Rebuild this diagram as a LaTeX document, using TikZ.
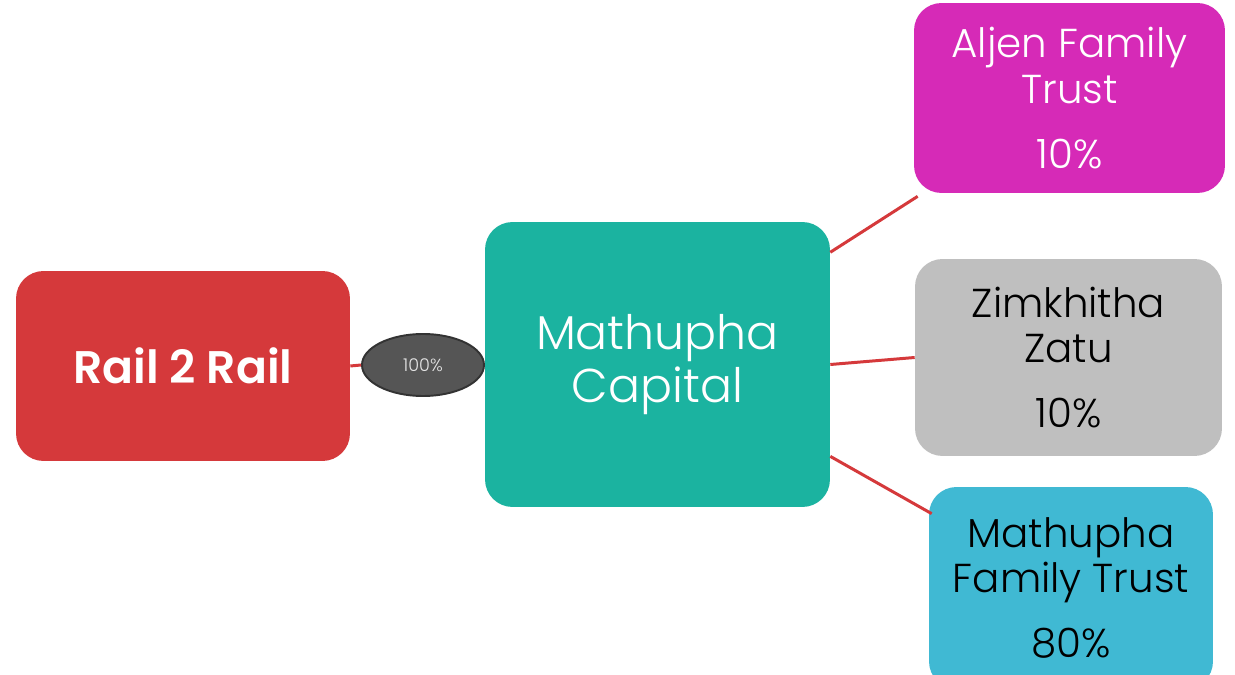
\documentclass[tikz,border=0pt]{standalone}
\usepackage{fontspec}
\setmainfont{Poppins}
\newfontfamily\lightfont{Poppins Light}
\newfontfamily\semifont{Poppins SemiBold}
\usetikzlibrary{shapes.geometric}
\definecolor{railred}{RGB}{213,57,59}
\definecolor{capteal}{RGB}{27,179,160}
\definecolor{aljenpink}{RGB}{214,42,183}
\definecolor{zatugray}{RGB}{191,191,191}
\definecolor{trustblue}{RGB}{64,185,211}
\definecolor{ovalgray}{RGB}{85,85,85}
\newcommand*{\holdertextstyle}{\lightfont\fontsize{23}{26}\selectfont}
\newcommand*{\capitaltextstyle}{\lightfont\fontsize{27}{30}\selectfont}

\tikzset{
   holder/.style = {
      rounded corners = 0.55cm,
      align           = center,
      inner sep       = 0pt,
      font            = \holdertextstyle
   },
   link/.style = {railred, line width=1.7pt}
}

\begin{document}
\begin{tikzpicture}[x=0.02cm, y=-0.02cm]
   \useasboundingbox[fill=white] (0,0) rectangle (1235,675);

   % left side
   \node (rail) at (183,366) [
      holder, fill = railred, text = white,
      minimum width = 6.68cm, minimum height = 3.8cm,
      font = \semifont\fontsize{26}{30}\selectfont
   ]{Rail 2 Rail};
   \node (share) at (423,365) [
      ellipse, draw = black!80, line width = 1.1pt, fill = ovalgray,
      minimum width = 2.44cm, minimum height = 1.24cm, inner sep = 0pt,
      text = white!90!black, font = \lightfont\fontsize{10}{12}\selectfont
   ]{100\%};
   \node (capital) at (657.5,364.5) [
      holder, fill = capteal, text = white,
      minimum width = 6.9cm, minimum height = 5.7cm,
      font = \capitaltextstyle
   ]{Mathupha\\Capital};

   % shareholders
   \node (aljen) at (1069.5,98) [
      holder, fill = aljenpink, text = white,
      minimum width = 6.22cm, minimum height = 3.8cm
   ]{Aljen Family\\Trust\\[11pt]10\%};
   \node (zimkhitha) at (1068.5,357.5) [
      holder, fill = zatugray, text = black,
      minimum width = 6.14cm, minimum height = 3.94cm
   ]{Zimkhitha\\Zatu\\[11pt]10\%};
   \node (family) at (1071,588) [
      holder, fill = trustblue, text = black,
      minimum width = 5.68cm, minimum height = 4.04cm
   ]{Mathupha\\Family Trust\\[11pt]80\%};

   \draw[link] (rail.east) -- (share.west);
   \draw[link] (capital.33) -- ([shift={(4,3)}]aljen.south west);
   \draw[link] (capital.east) -- (zimkhitha.west);
   \draw[link] (capital.-28) -- ([shift={(3,27)}]family.north west);
\end{tikzpicture}
\end{document}
